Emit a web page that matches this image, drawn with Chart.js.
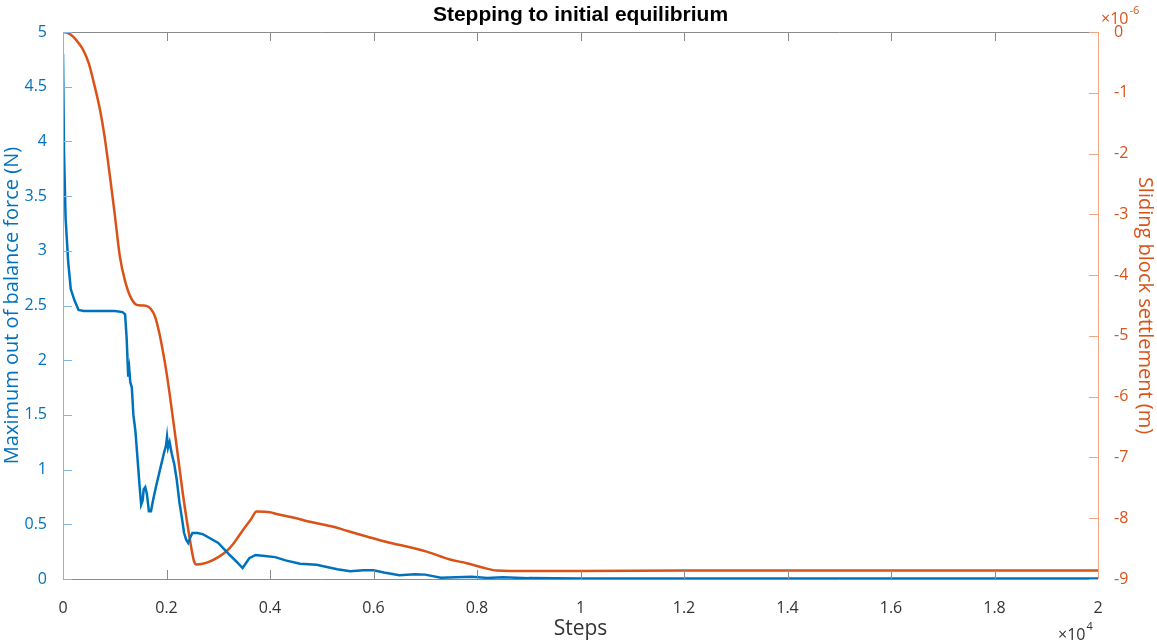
<!DOCTYPE html>
<html>
<head>
<meta charset="utf-8">
<script src="https://cdn.jsdelivr.net/npm/chart.js@4/dist/chart.umd.min.js"></script>
<style>
html,body{margin:0;padding:0;background:#fff;}
#wrap{width:1157px;height:642px;position:relative;}
</style>
</head>
<body>
<div id="wrap"><canvas id="c" width="1157" height="642"></canvas></div>
<script>
// ---- data ----
const forceSteps = [0,20,50,100,150,220,300,400,1000,1150,1200,1230,1260,1280,1300,1330,1360,1400,1440,1480,1510,1540,1560,1590,1620,1660,1700,1740,1800,1850,1900,1950,1990,2010,2030,2060,2100,2150,2200,2250,2300,2340,2380,2420,2460,2500,2600,2700,2850,3000,3200,3350,3470,3600,3720,3900,4100,4300,4580,4900,5100,5300,5550,5800,6000,6200,6500,6800,7000,7300,7600,7900,8200,8500,9000,10000,20000];
const forceValues = [4.8,3.9,3.3,2.9,2.65,2.55,2.46,2.45,2.45,2.44,2.42,2.2,1.85,1.92,1.8,1.75,1.5,1.35,1.1,0.85,0.68,0.72,0.82,0.84,0.78,0.62,0.62,0.72,0.85,0.95,1.05,1.15,1.22,1.3,1.2,1.25,1.15,1.05,0.9,0.7,0.55,0.42,0.36,0.33,0.38,0.42,0.42,0.41,0.37,0.33,0.23,0.16,0.10,0.19,0.22,0.21,0.20,0.17,0.14,0.13,0.11,0.09,0.07,0.08,0.08,0.06,0.035,0.043,0.04,0.012,0.015,0.02,0.01,0.015,0.008,0.005,0.005];
const settleSteps = [0,100,200,300,393,500,600,715,800,941,1000,1100,1200,1300,1424,1550,1649,1778,1860,1938,2000,2068,2197,2325,2454,2530,2583,2700,2841,3000,3164,3292,3400,3517,3630,3742,4000,4128,4400,4838,5224,5500,5869,6200,6512,7028,7478,7800,8100,8380,9000,10000,12000,20000];
const settleMicro = [0,-0.02,-0.08,-0.18,-0.30,-0.52,-0.85,-1.28,-1.7,-2.6,-3.0,-3.7,-4.1,-4.35,-4.49,-4.5,-4.52,-4.68,-4.95,-5.29,-5.6,-6.0,-6.82,-7.65,-8.36,-8.7,-8.76,-8.75,-8.71,-8.64,-8.54,-8.42,-8.29,-8.15,-8.02,-7.89,-7.90,-7.93,-7.98,-8.07,-8.14,-8.21,-8.30,-8.38,-8.44,-8.55,-8.68,-8.74,-8.81,-8.86,-8.87,-8.87,-8.86,-8.86];
const xTickValues = [0,2000,4000,6000,8000,10000,12000,14000,16000,18000,20000];
const leftTickValues = [0,0.5,1,1.5,2,2.5,3,3.5,4,4.5,5];
const rightTickValues = [0,-1,-2,-3,-4,-5,-6,-7,-8,-9];

const BLUE = '#0072BD', ORANGE = '#D95319';
const FONT = "'Open Sans','Liberation Sans',sans-serif";

const axisPlugin = {
  id: 'axisDeco',
  afterDraw(chart) {
    const ctx = chart.ctx, a = chart.chartArea;
    const xs = chart.scales.x, yl = chart.scales.y, yr = chart.scales.y2;
    ctx.save();
    ctx.lineWidth = 1;
    ctx.strokeStyle = '#8a8a8a';
    ctx.beginPath();
    ctx.moveTo(a.left, a.top + 0.5); ctx.lineTo(a.right, a.top + 0.5);
    ctx.moveTo(a.left, a.bottom + 0.5); ctx.lineTo(a.right, a.bottom + 0.5);
    xTickValues.forEach(v => {
      const px = Math.round(xs.getPixelForValue(v)) + 0.5;
      ctx.moveTo(px, a.top); ctx.lineTo(px, a.top + 9);
      ctx.moveTo(px, a.bottom); ctx.lineTo(px, a.bottom - 9);
    });
    ctx.stroke();
    ctx.strokeStyle = '#7fb6e2';
    ctx.beginPath();
    ctx.moveTo(a.left + 0.5, a.top); ctx.lineTo(a.left + 0.5, a.bottom);
    leftTickValues.forEach(v => {
      const py = Math.round(yl.getPixelForValue(v)) + 0.5;
      ctx.moveTo(a.left, py); ctx.lineTo(a.left + 9, py);
    });
    ctx.stroke();
    ctx.strokeStyle = '#f0a584';
    ctx.beginPath();
    ctx.moveTo(a.right + 0.5, a.top); ctx.lineTo(a.right + 0.5, a.bottom);
    rightTickValues.forEach(v => {
      const py = Math.round(yr.getPixelForValue(v)) + 0.5;
      ctx.moveTo(a.right, py); ctx.lineTo(a.right - 9, py);
    });
    ctx.stroke();
    // title
    ctx.fillStyle = '#000';
    ctx.font = "bold 21px 'Liberation Sans', Arial, sans-serif";
    ctx.textAlign = 'center'; ctx.textBaseline = 'middle';
    ctx.fillText('Stepping to initial equilibrium', (a.left + a.right) / 2, 15);
    // exponent labels
    ctx.textAlign = 'left'; ctx.textBaseline = 'alphabetic';
    ctx.fillStyle = ORANGE;
    ctx.font = "16px " + FONT;
    ctx.fillText('\u00d710', 1101, 24);
    let w = ctx.measureText('\u00d710').width;
    ctx.font = "11px " + FONT;
    ctx.fillText('-6', 1101 + w + 1, 14);
    ctx.fillStyle = '#333';
    ctx.font = "16px " + FONT;
    ctx.fillText('\u00d710', 1058, 640);
    w = ctx.measureText('\u00d710').width;
    ctx.font = "11px " + FONT;
    ctx.fillText('4', 1058 + w + 1, 630);
    ctx.restore();
  }
};

new Chart(document.getElementById('c'), {
  type: 'line',
  data: {
    datasets: [
      {
        label: 'force',
        data: forceSteps.map((s, i) => ({x: s, y: forceValues[i]})),
        borderColor: BLUE, borderWidth: 2.5, pointRadius: 0, tension: 0,
        yAxisID: 'y'
      },
      {
        label: 'settlement',
        data: settleSteps.map((s, i) => ({x: s, y: settleMicro[i]})),
        borderColor: ORANGE, borderWidth: 2.5, pointRadius: 0,
        cubicInterpolationMode: 'monotone',
        yAxisID: 'y2'
      }
    ]
  },
  options: {
    responsive: false, animation: false,
    layout: {padding: {top: 32, left: 0, right: 0, bottom: 0}},
    plugins: {legend: {display: false}, tooltip: {enabled: false}, title: {display: false}},
    scales: {
      x: {
        type: 'linear', min: 0, max: 20000,
        afterBuildTicks: s => { s.ticks = xTickValues.map(v => ({value: v})); },
        afterFit: s => { s.height = 63; },
        grid: {display: false}, border: {display: false},
        ticks: {color: '#333', font: {size: 16, family: FONT}, padding: 12, maxRotation: 0,
          callback: v => String(Math.round(v / 2000) * 2 / 10)},
        title: {display: true, text: 'Steps', color: '#333', font: {size: 21, family: FONT}, padding: {top: 0, bottom: 0}}
      },
      y: {
        position: 'left', min: 0, max: 5,
        afterBuildTicks: s => { s.ticks = leftTickValues.map(v => ({value: v})); },
        afterFit: s => { s.width = 63; },
        grid: {display: false}, border: {display: false},
        ticks: {color: BLUE, font: {size: 16, family: FONT}, padding: 8, callback: v => String(v)},
        title: {display: true, text: 'Maximum out of balance force (N)', color: BLUE, font: {size: 20, family: FONT}, padding: {top: 0, bottom: 0}}
      },
      y2: {
        position: 'right', min: -9, max: 0,
        afterBuildTicks: s => { s.ticks = rightTickValues.map(v => ({value: v})); },
        afterFit: s => { s.width = 59; },
        grid: {display: false}, border: {display: false},
        ticks: {color: ORANGE, font: {size: 16, family: FONT}, padding: 8, callback: v => String(v)},
        title: {display: true, text: 'Sliding block settlement (m)', color: ORANGE, font: {size: 20, family: FONT}, padding: {top: 0, bottom: 0}}
      }
    }
  },
  plugins: [axisPlugin]
});
</script>
</body>
</html>
